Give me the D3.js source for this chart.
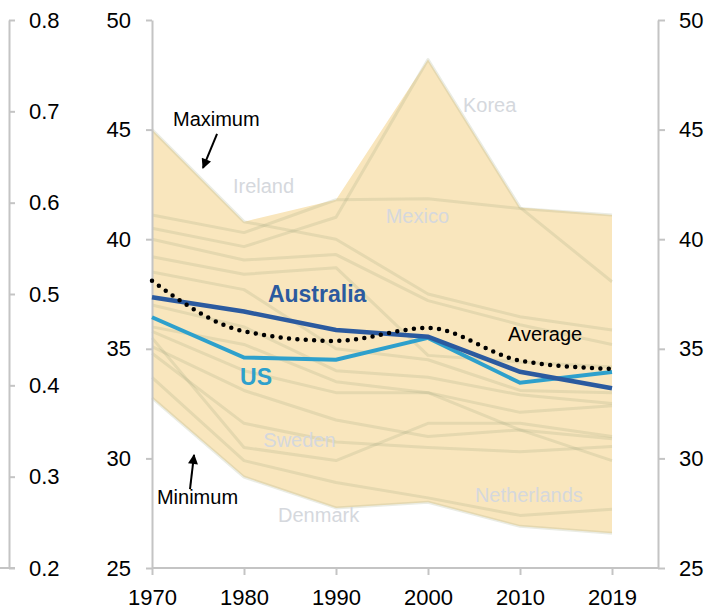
<!DOCTYPE html>
<html>
<head>
<meta charset="utf-8">
<script src="https://cdnjs.cloudflare.com/ajax/libs/d3/7.8.5/d3.min.js"></script>
<style>
    body { margin: 0; background: #fff; }
    svg { display: block; font-family: "Liberation Sans", Arial, sans-serif; }
</style>
</head>
<body>
<svg id="chart" width="716" height="610"></svg>
<script>
// categories and tick labels
const years = ["1970", "1980", "1990", "2000", "2010", "2019"];
const mainTicks = [25, 30, 35, 40, 45, 50];
const leftTicks = [0.2, 0.3, 0.4, 0.5, 0.6, 0.7, 0.8];

// highlighted series
const australia = [37.35, 36.7, 35.86, 35.55, 33.95, 33.2];
const us = [36.44, 34.6, 34.5, 35.5, 33.45, 33.94];
const average = [38.1, 35.8, 35.36, 35.95, 34.46, 34.08];

// other countries (background lines)
const ireland = [45.0, 40.8, 40.0, 37.5, 36.46, 35.86];
const mexico = [41.1, 40.3, 41.8, 41.85, 41.4, 41.1];
const korea = [40.5, 39.66, 41.0, 48.2, 41.45, 38.06];
const sweden = [35.5, 30.5, 29.9, 31.6, 31.6, 31.0];
const denmark = [32.76, 29.15, 27.74, 28.0, 26.9, 26.58];
const netherlands = [33.7, 29.9, 28.9, 28.2, 27.4, 27.68];
const countryA = [40.0, 39.05, 39.3, 37.2, 36.1, 35.2];
const countryB = [39.2, 38.4, 38.7, 34.7, 34.4, 34.17];
const countryC = [38.5, 37.7, 35.0, 34.5, 33.1, 33.0];
const countryD = [37.0, 36.0, 34.0, 33.7, 32.9, 32.5];
const countryE = [36.0, 35.2, 33.5, 33.0, 32.1, 32.4];
const countryF = [35.8, 34.0, 33.0, 33.0, 31.3, 29.9];
const countryG = [35.1, 33.1, 31.75, 31.0, 31.3, 30.9];
const countryH = [34.8, 31.6, 30.75, 30.5, 30.3, 30.54];

const countryLines = [ireland, mexico, korea, sweden, denmark, netherlands,
    countryA, countryB, countryC, countryD, countryE, countryF, countryG, countryH];

class Chart {
    constructor(svg) {
        this.svg = svg;
        this.x = d3.scalePoint().domain(years).range([152, 612]);
        this.y = d3.scaleLinear().domain([25, 50]).range([568, 20]);
        this.yLeft = d3.scaleLinear().domain([0.2, 0.8]).range([568, 20]);
        this.rightAxisX = 658;
        this.axisColor = "#c4c4c4";
    }

    // position inside the plot: i = fractional year index, v = value
    at(i, v) {
        return [this.x(years[0]) + i * this.x.step(), this.y(v)];
    }

    styleAxis(g, size) {
        g.attr("font-family", null).attr("font-size", size);
        g.selectAll("path, line").attr("stroke", this.axisColor).attr("stroke-width", 2);
        g.selectAll("text").attr("fill", "#000");
    }

    drawAxes() {
        let left = this.svg.append("g").attr("transform", "translate(9,0)")
            .call(d3.axisRight(this.yLeft).tickValues(leftTicks).tickFormat(d3.format(".1f"))
                .tickSize(6).tickPadding(14).tickSizeOuter(0));
        this.styleAxis(left, 22);
        this.svg.append("line")
            .attr("x1", 0).attr("x2", 15).attr("y1", this.y(25)).attr("y2", this.y(25))
            .attr("stroke", this.axisColor).attr("stroke-width", 2);

        let mid = this.svg.append("g").attr("transform", `translate(${this.x(years[0])},0)`)
            .call(d3.axisLeft(this.y).tickValues(mainTicks).tickSize(6).tickPadding(15).tickSizeOuter(0));
        this.styleAxis(mid, 22);

        let right = this.svg.append("g").attr("transform", `translate(${this.rightAxisX},0)`)
            .call(d3.axisRight(this.y).tickValues(mainTicks).tickSize(7).tickPadding(14).tickSizeOuter(0));
        this.styleAxis(right, 22);

        let bottom = this.svg.append("g").attr("transform", `translate(0,${this.y(25)})`)
            .call(d3.axisBottom(this.x).tickSize(7).tickPadding(14).tickSizeOuter(0));
        bottom.select(".domain").remove();
        bottom.append("line")
            .attr("x1", this.x(years[0])).attr("x2", this.rightAxisX);
        this.styleAxis(bottom, 22);
    }

    drawBand() {
        let lo = years.map((k, i) => d3.min(countryLines, c => c[i]));
        let hi = years.map((k, i) => d3.max(countryLines, c => c[i]));

        let area = d3.area()
            .x((d, i) => this.x(years[i]))
            .y0((d, i) => this.y(lo[i]))
            .y1((d, i) => this.y(hi[i]));

        this.svg.append("path")
            .datum(years)
            .attr("d", area)
            .attr("fill", "#f9e6bd");

        let line = d3.line()
            .x((d, i) => this.x(years[i]))
            .y(d => this.y(d));

        this.svg.append("g").selectAll("path")
            .data(countryLines)
            .join("path")
            .attr("d", line)
            .attr("fill", "none")
            .attr("stroke", "rgba(150,160,120,0.2)")
            .attr("stroke-width", 3)
            .attr("stroke-linejoin", "round");
    }

    drawSeries() {
        let line = d3.line()
            .x((d, i) => this.x(years[i]))
            .y(d => this.y(d));

        this.svg.append("path").datum(us)
            .attr("d", line).attr("fill", "none")
            .attr("stroke", "#2ea0cc").attr("stroke-width", 4);

        this.svg.append("path").datum(australia)
            .attr("d", line).attr("fill", "none")
            .attr("stroke", "#2b5a9f").attr("stroke-width", 4.5);

        this.svg.append("path").datum(average)
            .attr("d", line.curve(d3.curveMonotoneX)).attr("fill", "none")
            .attr("stroke", "#000").attr("stroke-width", 4.5)
            .attr("stroke-linecap", "round")
            .attr("stroke-dasharray", "0 8.4");
    }

    label(text, i, v, opts) {
        let [px, py] = this.at(i, v);
        return this.svg.append("text")
            .attr("x", px).attr("y", py)
            .attr("font-size", opts.size)
            .attr("font-weight", opts.bold ? "bold" : null)
            .attr("fill", opts.color)
            .text(text);
    }

    arrow(i1, v1, i2, v2) {
        let [x1, y1] = this.at(i1, v1);
        let [x2, y2] = this.at(i2, v2);
        this.svg.append("line")
            .attr("x1", x1).attr("y1", y1).attr("x2", x2).attr("y2", y2)
            .attr("stroke", "#000").attr("stroke-width", 2)
            .attr("marker-end", "url(#head)");
    }

    drawLabels() {
        this.svg.append("defs").append("marker")
            .attr("id", "head")
            .attr("viewBox", "0 0 10 10")
            .attr("refX", 9).attr("refY", 5)
            .attr("markerUnits", "userSpaceOnUse")
            .attr("markerWidth", 12).attr("markerHeight", 10)
            .attr("orient", "auto")
            .append("path").attr("d", "M0,0L10,5L0,10Z").attr("fill", "#000");

        let grey = {size: 20, color: "#d5d8dd"};
        this.label("Korea", 3.38, 45.8, grey);
        this.label("Ireland", 0.88, 42.1, grey);
        this.label("Mexico", 2.54, 40.74, grey);
        this.label("Sweden", 1.21, 30.52, grey);
        this.label("Denmark", 1.37, 27.1, grey);
        this.label("Netherlands", 3.51, 28.0, grey);

        let note = {size: 20, color: "#000"};
        this.label("Maximum", 0.228, 45.16, note);
        this.label("Minimum", 0.054, 27.92, note);
        this.label("Average", 3.87, 35.36, note);
        this.arrow(0.707, 44.8, 0.554, 43.25);
        this.arrow(0.413, 28.6, 0.457, 30.16);

        this.label("Australia", 1.26, 37.15, {size: 23, bold: true, color: "#2b5a9f"});
        this.label("US", 0.957, 33.35, {size: 23, bold: true, color: "#2ea0cc"});
    }

    draw() {
        this.drawBand();
        this.drawAxes();
        this.drawSeries();
        this.drawLabels();
    }
}

let chart = new Chart(d3.select("#chart"));
chart.draw();
</script>
</body>
</html>
